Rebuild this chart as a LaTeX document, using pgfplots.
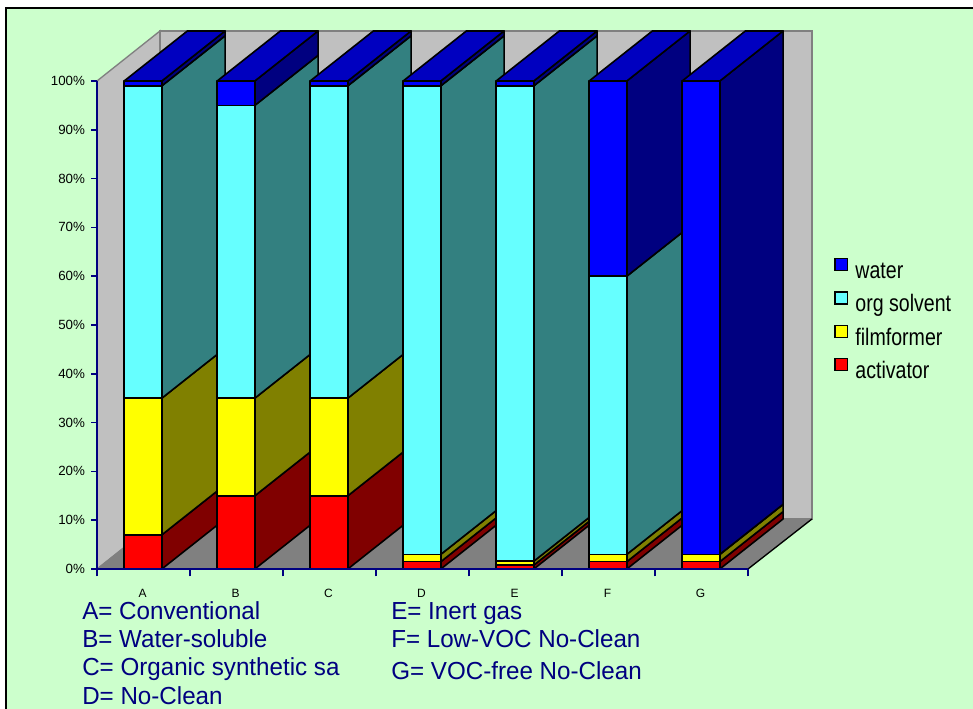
\documentclass[border=0pt]{standalone}
\usepackage{fontspec}
\usepackage{pgfplots}
\usepackage{pgfplotstable}
\pgfplotsset{compat=1.18}
\setmainfont{Liberation Sans}
\newfontfamily\narrowfont[FakeStretch=0.82]{Liberation Sans}
\newfontfamily\notefont[FakeStretch=0.98]{Liberation Sans}

\definecolor{paper}{HTML}{CCFFCC}
\definecolor{wall}{HTML}{C0C0C0}
\definecolor{walledge}{HTML}{808080}
\definecolor{axisnavy}{HTML}{000080}
\definecolor{cRed}{HTML}{FF0000}\definecolor{sRed}{HTML}{800000}
\definecolor{cYel}{HTML}{FFFF00}\definecolor{sYel}{HTML}{808000}
\definecolor{cCya}{HTML}{66FFFF}\definecolor{sCya}{HTML}{338080}
\definecolor{cBlu}{HTML}{0000FF}\definecolor{sBlu}{HTML}{000080}
\definecolor{tBlu}{HTML}{0000C0}

% share of each ingredient, in percent, per flux type
\pgfplotstableread{
cat activator filmformer orgsolvent water
A   7    28   64   1
B   15   20   60   5
C   15   20   64   1
D   1.5  1.5  96   1
E   0.8  0.8  97.4 1
F   1.5  1.5  57   40
G   1.5  1.5  0    97
}\fluxdata

% depth of the extruded chart, in axis units
\def\depthx{0.68}
\def\depthy{10.25}
\def\barleft{0.292}
\def\barwidth{0.405}

% one stacked block: #1 bar index, #2 lower %, #3 upper %, #4 front colour, #5 side colour
\newcommand\block[5]{%
  \pgfmathsetmacro\xa{#1+\barleft}%
  \pgfmathsetmacro\xb{\xa+\barwidth}%
  \pgfmathsetmacro\xc{\xb+\depthx}%
  \pgfmathsetmacro\ylo{#2}%
  \pgfmathsetmacro\yhi{#3}%
  \pgfmathsetmacro\ylob{#2+\depthy}%
  \pgfmathsetmacro\yhib{#3+\depthy}%
  \edef\tmp{%
    \noexpand\addplot[face,fill=#5] coordinates {(\xb,\ylo)(\xc,\ylob)(\xc,\yhib)(\xb,\yhi)} --cycle;
    \noexpand\addplot[face,fill=#4] coordinates {(\xa,\ylo)(\xb,\ylo)(\xb,\yhi)(\xa,\yhi)} --cycle;
  }\tmp
}
% lid of a bar at 100 %
\newcommand\lid[1]{%
  \pgfmathsetmacro\xa{#1+\barleft}%
  \pgfmathsetmacro\xb{\xa+\barwidth}%
  \pgfmathsetmacro\xc{\xb+\depthx}%
  \pgfmathsetmacro\xd{\xa+\depthx}%
  \pgfmathsetmacro\yb{100+\depthy}%
  \edef\tmp{%
    \noexpand\addplot[face,fill=tBlu] coordinates {(\xa,100)(\xb,100)(\xc,\yb)(\xd,\yb)} --cycle;
  }\tmp
}
% all four blocks of bar #1
\newcommand\stackbar[1]{%
  \pgfplotstablegetelem{#1}{activator}\of\fluxdata\let\va\pgfplotsretval
  \pgfplotstablegetelem{#1}{filmformer}\of\fluxdata\let\vb\pgfplotsretval
  \pgfplotstablegetelem{#1}{orgsolvent}\of\fluxdata\let\vc\pgfplotsretval
  \pgfplotstablegetelem{#1}{water}\of\fluxdata\let\vd\pgfplotsretval
  \pgfmathsetmacro\sa{\va}%
  \pgfmathsetmacro\sb{\sa+\vb}%
  \pgfmathsetmacro\sc{\sb+\vc}%
  \pgfmathsetmacro\sd{\sc+\vd}%
  \let\Sa\sa\let\Sb\sb\let\Sc\sc\let\Sd\sd
  \block{#1}{0}{\Sa}{cRed}{sRed}%
  \block{#1}{\Sa}{\Sb}{cYel}{sYel}%
  \block{#1}{\Sb}{\Sc}{cCya}{sCya}%
  \block{#1}{\Sc}{\Sd}{cBlu}{sBlu}%
  \lid{#1}%
}

\begin{document}
\begin{tikzpicture}[x=0.75pt,y=0.75pt]
  \useasboundingbox (0,0) rectangle (973,709);
  \fill[white] (0,0) rectangle (973,709);
  \fill[paper] (5.5,0) rectangle (973,700.5);
  \draw[black,line width=1.5pt] (5.5,0) -- (5.5,700.5) -- (973,700.5);

  \begin{axis}[
    at={(72.75pt,105pt)}, anchor=south west,
    scale only axis, width=488.25pt, height=366pt,
    xmin=0, xmax=7, ymin=0, ymax=100,
    clip=false, axis on top,
    axis lines=left,
    axis line style={-, axisnavy, line width=1.2pt},
    every tick/.style={axisnavy, line width=1.2pt},
    tick align=outside,
    xtick={0.49,1.49,2.49,3.49,4.49,5.49,6.49},
    xticklabels={A,B,C,D,E,F,G},
    minor xtick={0,1,2,3,4,5,6,7},
    ytick={0,10,...,100},
    yticklabel={\pgfmathprintnumber{\tick}\%},
    /pgf/number format/assume math mode=true,
    x tick label style={font=\fontsize{9pt}{10pt}\selectfont, yshift=-7pt},
    y tick label style={font=\fontsize{10pt}{11pt}\selectfont, xshift=-1pt},
    tick style={axisnavy},
    major x tick style={draw=none},
    major tick length=4.5pt,
    minor tick length=5.5pt,
    face/.style={draw=black, line width=1.2pt, line join=round, forget plot},
    legend image code/.code={
      \draw[#1, draw=black, line width=1.1pt] (0,6pt) rectangle (9.5pt,15pt);
    },
    legend style={
      at={(axis cs:7.925,63.9)}, anchor=north west,
      draw=none, fill=none, inner sep=0pt, row sep=0pt,
      font=\narrowfont\fontsize{17.9pt}{20pt}\selectfont,
      nodes={text height=15.7pt, text depth=9.4pt, inner sep=0pt, anchor=base west},
      /tikz/every odd column/.append style={column sep=5.25pt},
    },
    legend cell align=left,
  ]
    % walls and floor
    \addplot[fill=wall, draw=walledge, line width=1pt, forget plot]
      coordinates {(0,0)(0.6774,10.25)(0.6774,110.25)(0,100)} --cycle;
    \addplot[fill=wall, draw=walledge, line width=1pt, forget plot]
      coordinates {(0.6774,10.25)(7.688,10.25)(7.688,110.25)(0.6774,110.25)} --cycle;
    \addplot[fill=walledge, draw=walledge, line width=0.5pt, forget plot]
      coordinates {(0,0)(7,0)(7.688,10.25)(0.6774,10.25)} --cycle;
    \addplot[draw=black, line width=1pt, forget plot]
      coordinates {(7,0)(7.688,10.25)};

    \stackbar{0}\stackbar{1}\stackbar{2}\stackbar{3}\stackbar{4}\stackbar{5}\stackbar{6}

    \addlegendimage{fill=cBlu}\addlegendentry{water}
    \addlegendimage{fill=cCya}\addlegendentry{org solvent}
    \addlegendimage{fill=cYel}\addlegendentry{filmformer}
    \addlegendimage{fill=cRed}\addlegendentry{activator}
  \end{axis}

  % key to the flux types
  \begin{scope}[every node/.style={anchor=base west, inner sep=0pt, text=axisnavy,
      font=\notefont\fontsize{18.5pt}{20pt}\selectfont}]
    \node at (82,89) {A= Conventional};
    \node at (82,61) {B= Water-soluble};
    \node at (82,33) {C= Organic synthetic sa};
    \node at (82,4)  {D= No-Clean};
    \node at (391,89) {E= Inert gas};
    \node at (391,61) {F= Low-VOC No-Clean};
    \node at (391,29) {G=\ VOC-free No-Clean};
  \end{scope}
\end{tikzpicture}
\end{document}
